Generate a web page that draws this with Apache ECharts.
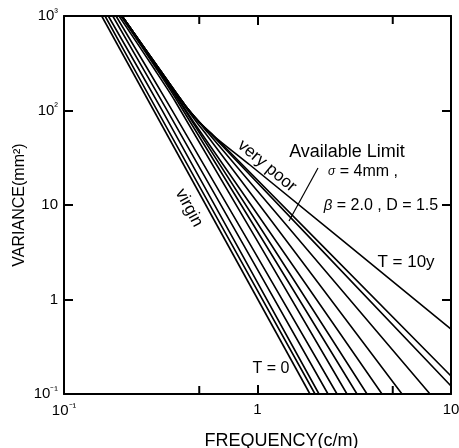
<!DOCTYPE html>
<html>
<head>
<meta charset="utf-8">
<title>Variance vs frequency</title>
<script src="https://cdn.jsdelivr.net/npm/echarts@6/dist/echarts.min.js"></script>
<style>
  html, body { margin: 0; padding: 0; background: #fff; }
  #chart { width: 459px; height: 448px; }
</style>
</head>
<body>
<div id="chart"></div>
<script>
// curves: [frequency (c/m), variance (mm2)]
var lineT0  = [[0.1566, 1000], [1.867, 0.1]];                       // virgin
var line02  = [[0.1629, 1000], [0.3024, 101], [1.983, 0.1]];
var line03  = [[0.1694, 1000], [0.3210, 101], [2.079, 0.1]];
var line04  = [[0.1786, 1000], [0.3405, 101], [2.314, 0.1]];
var line05  = [[0.1857, 1000], [0.3614, 101], [2.576, 0.1]];
var line06  = [[0.1924, 1000], [0.2953, 268], [0.3746, 126], [2.900, 0.1]];
var line07  = [[0.1971, 1000], [0.3060, 262], [0.3882, 123], [3.267, 0.1]];
var line08  = [[0.1983, 1000], [0.3134, 255], [0.4024, 117], [0.4479, 83], [3.681, 0.1]];
var line09  = [[0.1994, 1000], [0.3134, 262], [0.4121, 112], [0.4753, 72], [4.400, 0.1]];
var line10  = [[0.1994, 1000], [0.3134, 265], [0.4220, 111], [0.4926, 72], [0.5354, 58], [5.582, 0.1]];
var line11  = [[0.1994, 1000], [0.3134, 268], [0.4220, 114], [0.5044, 73], [0.5549, 58], [7.79, 0.1]];
var line12  = [[0.1994, 1000], [0.3134, 268], [0.4220, 114], [0.5044, 74], [0.5354, 65.5], [0.5751, 56.4], [10, 0.1216]];
var line13  = [[0.1994, 1000], [0.3134, 268], [0.4220, 114], [0.5044, 74], [0.5354, 65.5], [0.5888, 55], [10, 0.155]];
var lineT10 = [[0.1994, 1000], [0.3134, 268], [0.4220, 114], [0.5044, 74], [0.6031, 52.4], [0.9146, 26.5], [10, 0.487]]; // very poor

var curves = [lineT0, line02, line03, line04, line05, line06, line07,
              line08, line09, line10, line11, line12, line13, lineT10];

var xMinorTicks = [0.5, 5];
var supMap = { '-1': '⁻¹', '2': '²', '3': '³' };

var FONT = '"Liberation Sans", Arial, Helvetica, sans-serif';

function powLabel(v) {
    var e = Math.round(Math.log(v) / Math.LN10);
    if (e === 0) return '1';
    if (e === 1) return '10';
    return '10{sup|' + supMap[e] + '}';
}

var myChart = echarts.init(document.getElementById('chart'), null, { renderer: 'canvas' });

var axisLine = { show: true, lineStyle: { color: '#000', width: 2 } };
var tickIn = { show: true, inside: true, length: 9, lineStyle: { color: '#000', width: 2 } };
var richSup = { sup: { fontSize: 11, verticalAlign: 'top', padding: [0, 0, 7, 0], fontFamily: FONT, color: '#000' } };

var series = curves.map(function (pts) {
    return {
        type: 'line',
        data: pts,
        symbol: 'none',
        smooth: 0.25,
        clip: true,
        lineStyle: { color: '#000', width: 1.6 },
        emphasis: { disabled: true },
        silent: true
    };
});

var option = {
    animation: false,
    backgroundColor: '#fff',
    grid: { left: 64, right: 8, top: 16, bottom: 54, outerBoundsMode: 'none', containLabel: false },
    xAxis: [
        {
            type: 'log', logBase: 10, min: 0.1, max: 10, position: 'bottom',
            name: 'FREQUENCY(c/m)', nameLocation: 'middle', nameGap: 38, nameMoveOverlap: false,
            nameTextStyle: { fontFamily: FONT, fontSize: 18, color: '#000', padding: [0, 0, 0, 48] },
            axisLine: axisLine, axisTick: tickIn, splitLine: { show: false },
            axisLabel: {
                margin: 8, fontFamily: FONT, fontSize: 15, color: '#000',
                formatter: function (v) { return powLabel(v); },
                rich: richSup
            }
        },
        {
            type: 'log', logBase: 10, min: 0.1, max: 10, position: 'top',
            axisLine: axisLine, axisTick: tickIn, splitLine: { show: false },
            axisLabel: { show: false }
        }
    ],
    yAxis: [
        {
            type: 'log', logBase: 10, min: 0.1, max: 1000, position: 'left',
            name: 'VARIANCE(mm²)', nameLocation: 'middle', nameGap: 36, nameRotate: 90, nameMoveOverlap: false,
            nameTextStyle: { fontFamily: FONT, fontSize: 16, color: '#000' },
            axisLine: axisLine, axisTick: tickIn, splitLine: { show: false },
            axisLabel: {
                margin: 6, fontFamily: FONT, fontSize: 15, color: '#000',
                formatter: function (v) { return powLabel(v); },
                rich: richSup
            }
        },
        {
            type: 'log', logBase: 10, min: 0.1, max: 1000, position: 'right',
            axisLine: axisLine, axisTick: tickIn, splitLine: { show: false },
            axisLabel: { show: false }
        }
    ],
    series: series
};

myChart.setOption(option);

// extra ticks at 0.5 and 5, placed through the axis scale
var g = [];
var yTop = myChart.convertToPixel({ yAxisIndex: 0 }, 1000);
var yBot = myChart.convertToPixel({ yAxisIndex: 0 }, 0.1);
xMinorTicks.forEach(function (v) {
    var px = myChart.convertToPixel({ xAxisIndex: 0 }, v);
    g.push({ type: 'line', shape: { x1: px, y1: yBot, x2: px, y2: yBot - 8 }, style: { stroke: '#000', lineWidth: 2 } });
    g.push({ type: 'line', shape: { x1: px, y1: yTop, x2: px, y2: yTop + 8 }, style: { stroke: '#000', lineWidth: 2 } });
});

// annotations
function txt(text, x, y, size, rot, extra) {
    var o = {
        type: 'text', x: x, y: y, rotation: (rot || 0) * Math.PI / 180,
        style: { text: text, fill: '#000', font: size + 'px ' + FONT, align: 'center', verticalAlign: 'middle' }
    };
    if (extra) o.style.rich = extra;
    return o;
}
g.push(txt('virgin', 189, 208, 17, -62));
g.push(txt('very poor', 267, 166, 17, -40));
g.push(txt('Available Limit', 347, 152, 18, 0));
g.push(txt('{s|σ} = 4mm ,', 363, 172, 16, 0, { s: { fontSize: 12, fontStyle: 'italic', fontFamily: FONT } }));
g.push(txt('{s|β} = 2.0 , D = 1.5', 381, 206, 16, 0, { s: { fontSize: 15, fontStyle: 'italic', fontFamily: FONT } }));
g.push(txt('T = 10y', 406, 262, 17, 0));
g.push(txt('T = 0', 271, 369, 16, 0));
g.push({ type: 'line', shape: { x1: 318, y1: 168, x2: 289, y2: 221 }, style: { stroke: '#000', lineWidth: 1.2 } });

myChart.setOption({ graphic: g });
</script>
</body>
</html>
